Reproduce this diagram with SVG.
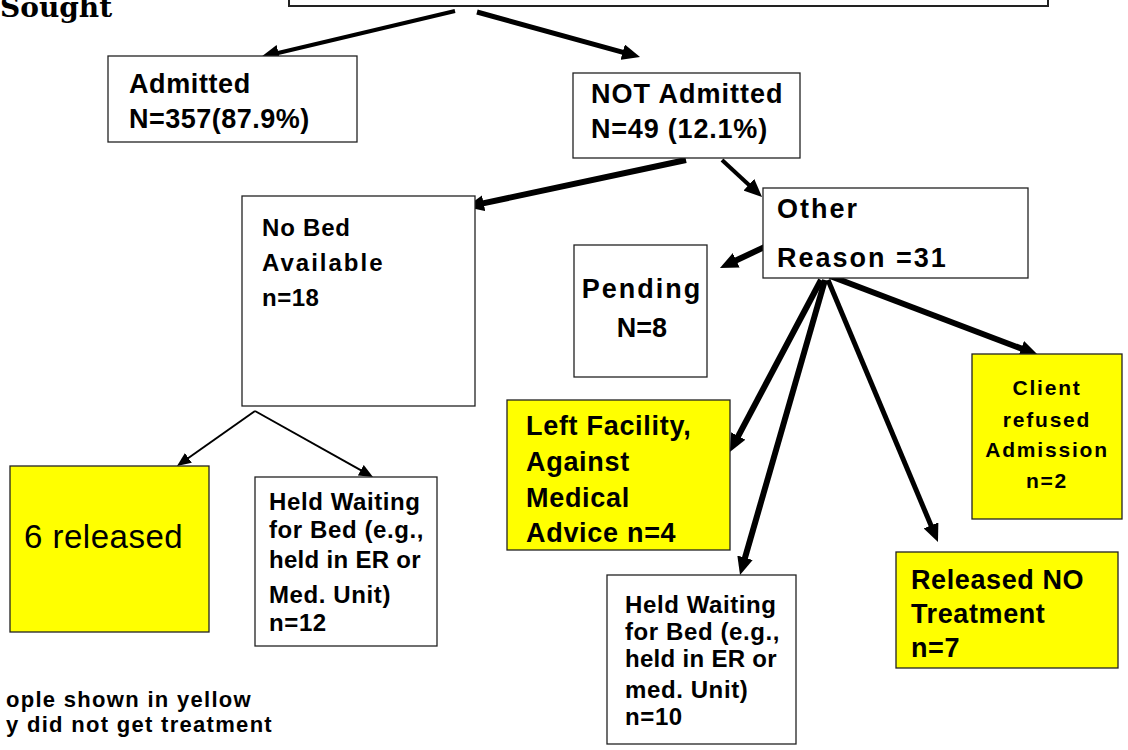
<svg xmlns="http://www.w3.org/2000/svg" width="1128" height="750" viewBox="0 0 1128 750">
<style>
.box{fill:#fff;stroke:#222;stroke-width:1.3}
.yel{fill:#ffff00;stroke:#222;stroke-width:1.3}
.b27{font-family:"Liberation Sans",Arial,sans-serif;font-weight:bold;font-size:27px;fill:#000}
.b24{font-family:"Liberation Sans",Arial,sans-serif;font-weight:bold;font-size:24px;fill:#000}
.b21{font-family:"Liberation Sans",Arial,sans-serif;font-weight:bold;font-size:21px;fill:#000}
.b22{font-family:"Liberation Sans",Arial,sans-serif;font-weight:bold;font-size:22px;fill:#000}
.r33{font-family:"Liberation Sans",Arial,sans-serif;font-size:33px;fill:#000}
.ser{font-family:"DejaVu Serif",serif;font-weight:bold;font-size:28px;fill:#000}
.thick{stroke:#000;fill:none;marker-end:url(#ah)}
.thin{stroke:#000;fill:none;stroke-width:2;marker-end:url(#ahs)}
</style>
<defs>
<marker id="ah" viewBox="0 0 18 16" refX="8" refY="8" markerWidth="18" markerHeight="16" markerUnits="userSpaceOnUse" orient="auto">
<path d="M0,0 L18,8 L0,16 z" fill="#000"/>
</marker>
<marker id="ahs" viewBox="0 0 14 12" refX="7" refY="6" markerWidth="14" markerHeight="12" markerUnits="userSpaceOnUse" orient="auto">
<path d="M0,0 L14,6 L0,12 z" fill="#000"/>
</marker>
</defs>
<rect width="1128" height="750" fill="#fff"/>

<text class="ser" x="0" y="17">Sought</text>

<g id="top"><rect x="289" y="-20" width="759" height="26" fill="#fff" stroke="#222" stroke-width="2"/></g>

<g id="connectors">
<path class="thick" stroke-width="4" d="M455,11 L270.7,54.7"/>
<path class="thick" stroke-width="5" d="M477,12 L630.4,54.3"/>
<path class="thick" stroke-width="6" d="M686,160 L475.8,204.9"/>
<path class="thick" stroke-width="4" d="M722,160 L754.7,190.2"/>
<path class="thick" stroke-width="6" d="M773,243 L729,263.7"/>
<path class="thick" stroke-width="6" d="M821,280 L734.5,443.1"/>
<path class="thick" stroke-width="6" d="M825,280 L742.8,565.4"/>
<path class="thick" stroke-width="5" d="M828,280 L934.1,532.8"/>
<path class="thick" stroke-width="6" d="M830,276 L1028.7,351.4"/>
<path class="thin" d="M255,411 L182.7,462"/>
<path class="thin" d="M255,411 L366.9,473.6"/>
</g>

<g id="admitted">
<rect class="box" x="108" y="56" width="249" height="86"/>
<text class="b27" x="129" y="93" letter-spacing="0.6">Admitted</text>
<text class="b27" x="129" y="128" letter-spacing="0.5">N=357(87.9%)</text>
</g>

<g id="not-admitted">
<rect class="box" x="573" y="73" width="227" height="85"/>
<text class="b27" x="591" y="103" letter-spacing="1">NOT Admitted</text>
<text class="b27" x="591" y="138" letter-spacing="0.8">N=49 (12.1%)</text>
</g>

<g id="no-bed">
<rect class="box" x="242" y="196" width="233" height="210"/>
<text class="b24" x="262" y="236" letter-spacing="0.8">No Bed</text>
<text class="b24" x="262" y="271" letter-spacing="2">Available</text>
<text class="b24" x="262" y="306" letter-spacing="0.5">n=18</text>
</g>

<g id="other">
<rect class="box" x="763" y="188" width="265" height="90"/>
<text class="b27" x="777" y="218" letter-spacing="2" font-size="29">Other</text>
<text class="b27" x="777" y="267" letter-spacing="2" font-size="29">Reason =31</text>
</g>

<g id="pending">
<rect class="box" x="574" y="245" width="133" height="132"/>
<text class="b27" x="642" y="298" font-size="29" letter-spacing="2" text-anchor="middle">Pending</text>
<text class="b27" x="642" y="337" font-size="29" text-anchor="middle">N=8</text>
</g>

<g id="left-facility">
<rect class="yel" x="507" y="400" width="223" height="150"/>
<text class="b27" x="526" y="435" letter-spacing="0.7">Left Facility,</text>
<text class="b27" x="526" y="471" letter-spacing="0.7">Against</text>
<text class="b27" x="526" y="507" letter-spacing="0.7">Medical</text>
<text class="b27" x="526" y="542" letter-spacing="0.7">Advice n=4</text>
</g>

<g id="client-refused">
<rect class="yel" x="972" y="354" width="150" height="165"/>
<text class="b21" x="1047" y="395" font-size="22" text-anchor="middle" letter-spacing="1.8">Client</text>
<text class="b21" x="1047" y="427" font-size="22" text-anchor="middle" letter-spacing="1.8">refused</text>
<text class="b21" x="1047" y="457" font-size="22" text-anchor="middle" letter-spacing="1.8">Admission</text>
<text class="b21" x="1047" y="488" font-size="22" text-anchor="middle" letter-spacing="1.8">n=2</text>
</g>

<g id="released-no-treatment">
<rect class="yel" x="896" y="552" width="222" height="116"/>
<text class="b27" x="911" y="589" font-size="28" letter-spacing="0.6">Released NO</text>
<text class="b27" x="911" y="623" font-size="28" letter-spacing="0.6">Treatment</text>
<text class="b27" x="911" y="657" font-size="28" letter-spacing="0.6">n=7</text>
</g>

<g id="six-released">
<rect class="yel" x="10" y="466" width="199" height="166"/>
<text class="r33" x="24" y="548" letter-spacing="0.5">6 released</text>
</g>

<g id="held-left">
<rect class="box" x="255" y="477" width="182" height="169"/>
<text class="b24" x="269" y="510" letter-spacing="0.6">Held Waiting</text>
<text class="b24" x="269" y="538" letter-spacing="0.6">for Bed (e.g.,</text>
<text class="b24" x="269" y="568" letter-spacing="0.3">held in ER or</text>
<text class="b24" x="269" y="603" letter-spacing="0.6">Med. Unit)</text>
<text class="b24" x="269" y="631" letter-spacing="0.6">n=12</text>
</g>

<g id="held-right">
<rect class="box" x="607" y="575" width="189" height="169"/>
<text class="b24" x="625" y="613" letter-spacing="0.6">Held Waiting</text>
<text class="b24" x="625" y="640" letter-spacing="0.6">for Bed (e.g.,</text>
<text class="b24" x="625" y="667" letter-spacing="0.3">held in ER or</text>
<text class="b24" x="625" y="698" letter-spacing="0.6">med. Unit)</text>
<text class="b24" x="625" y="725" letter-spacing="0.6">n=10</text>
</g>

<g id="note">
<text class="b22" x="252" y="707" text-anchor="end" letter-spacing="1.3">ople shown in yellow</text>
<text class="b22" x="273" y="732" text-anchor="end" letter-spacing="1.3">y did not get treatment</text>
</g>
</svg>
